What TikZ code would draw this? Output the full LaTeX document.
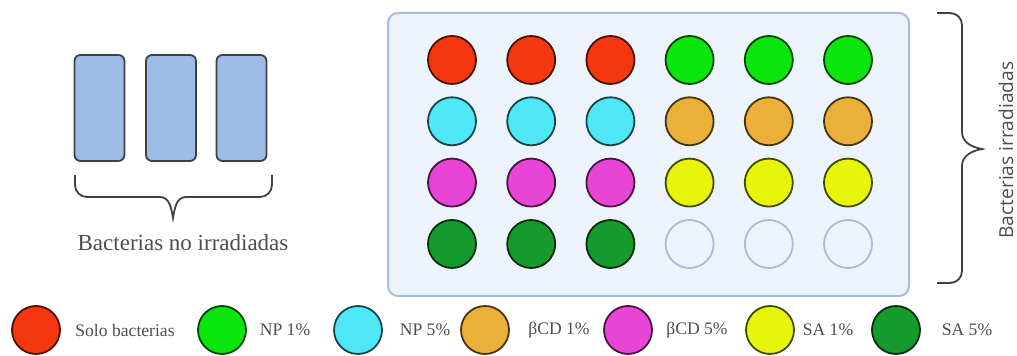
\documentclass[tikz,border=0pt]{standalone}
\usepackage{fontspec}
\setmainfont{Liberation Serif}
\newfontfamily\labelsans{Open Sans}
\usepackage{tikz}

\definecolor{solo}{HTML}{F5370F}
\definecolor{npone}{HTML}{0BE60F}
\definecolor{npfive}{HTML}{4FE6F5}
\definecolor{cdone}{HTML}{EBB03A}
\definecolor{cdfive}{HTML}{E845D6}
\definecolor{saone}{HTML}{E6F50A}
\definecolor{safive}{HTML}{159A2E}
\definecolor{platefill}{HTML}{EDF3FB}
\definecolor{plateline}{HTML}{A9BCDB}
\definecolor{tubefill}{HTML}{9DBDE8}
\definecolor{txtgray}{HTML}{4D4D4D}

\begin{document}
\begin{tikzpicture}[x=0.5pt,y=-0.5pt,
		well/.style={circle,minimum size=24pt,inner sep=0pt,line width=0.9pt,fill=#1,draw=#1!30!black},
		emptywell/.style={circle,minimum size=24pt,inner sep=0pt,line width=0.9pt,draw=plateline},
		tube/.style={rectangle,rounded corners=3pt,minimum width=25pt,minimum height=53pt,fill=tubefill,draw=black!75,line width=0.9pt},
		bracket/.style={draw=black!75,line width=0.9pt},
		legtext/.style={font=\fontsize{8.8}{10}\selectfont,text=txtgray}]
		\useasboundingbox (0,0) rectangle (1017,356);

		% Tubes (no irradiadas)
		\node[tube] (t1) at (99.5,108) {};
		\node[tube] (t2) at (171,108) {};
		\node[tube] (t3) at (241.5,108) {};

		% Brace under the tubes
		\draw[bracket] (75,175) -- (75,185) to[out=-90,in=180] (87,197) -- (160,197) to[out=0,in=100] (173,218) to[out=80,in=180] (186,197) -- (260,197) to[out=0,in=-90] (272,185) -- (272,175);
		\node[font=\fontsize{11.5}{13}\selectfont,text=txtgray] (noirr) at (183,243) {Bacterias no irradiadas};

		% Plate
		\draw[plateline,fill=platefill,line width=1pt,rounded corners=5pt] (388,13) rectangle (909,296);

		% Wells, rows 1-3
		\foreach \colA/\colB [count=\r] in {solo/npone,npfive/cdone,cdfive/saone} {
			\foreach \k in {1,2,3} {
				\pgfmathtruncatemacro\kk{\k+3}
				\node[well=\colA] (w\r-\k) at ({452+79.2*(\k-1)},{60+61.3*(\r-1)}) {};
				\node[well=\colB] (w\r-\kk) at ({452+79.2*(\kk-1)},{60+61.3*(\r-1)}) {};
			}
		}

		% Wells, row 4
		\foreach \k in {1,2,3} {
			\pgfmathtruncatemacro\kk{\k+3}
			\node[well=safive] (w4-\k) at ({452+79.2*(\k-1)},244) {};
			\node[emptywell] (w4-\kk) at ({452+79.2*(\kk-1)},244) {};
		}

		% Brace right of the plate
		\draw[bracket] (937,13) -- (950,13) to[out=0,in=90] (962,25) -- (962,132) to[out=-90,in=170] (982,149) to[out=190,in=90] (962,166) -- (962,271) to[out=-90,in=0] (950,283) -- (937,283);
		\node[rotate=90,inner sep=1pt,font=\labelsans\fontsize{9.6}{11}\selectfont,text=txtgray] (irr) at (1006,150) {Bacterias irradiadas};

		% Legend
		\foreach \cx/\lx/\col/\txt [count=\n] in {36/125/solo/Solo bacterias,222/285/npone/NP 1\%,358/425/npfive/NP 5\%,485/559/cdone/βCD 1\%,628/697/cdfive/βCD 5\%,770/828/saone/SA 1\%,896/967/safive/SA 5\%} {
			\node[well=\col] (leg\n) at (\cx,330) {};
			\node[legtext] (lab\n) at (\lx,330) {\txt};
		}

	\end{tikzpicture}
\end{document}
